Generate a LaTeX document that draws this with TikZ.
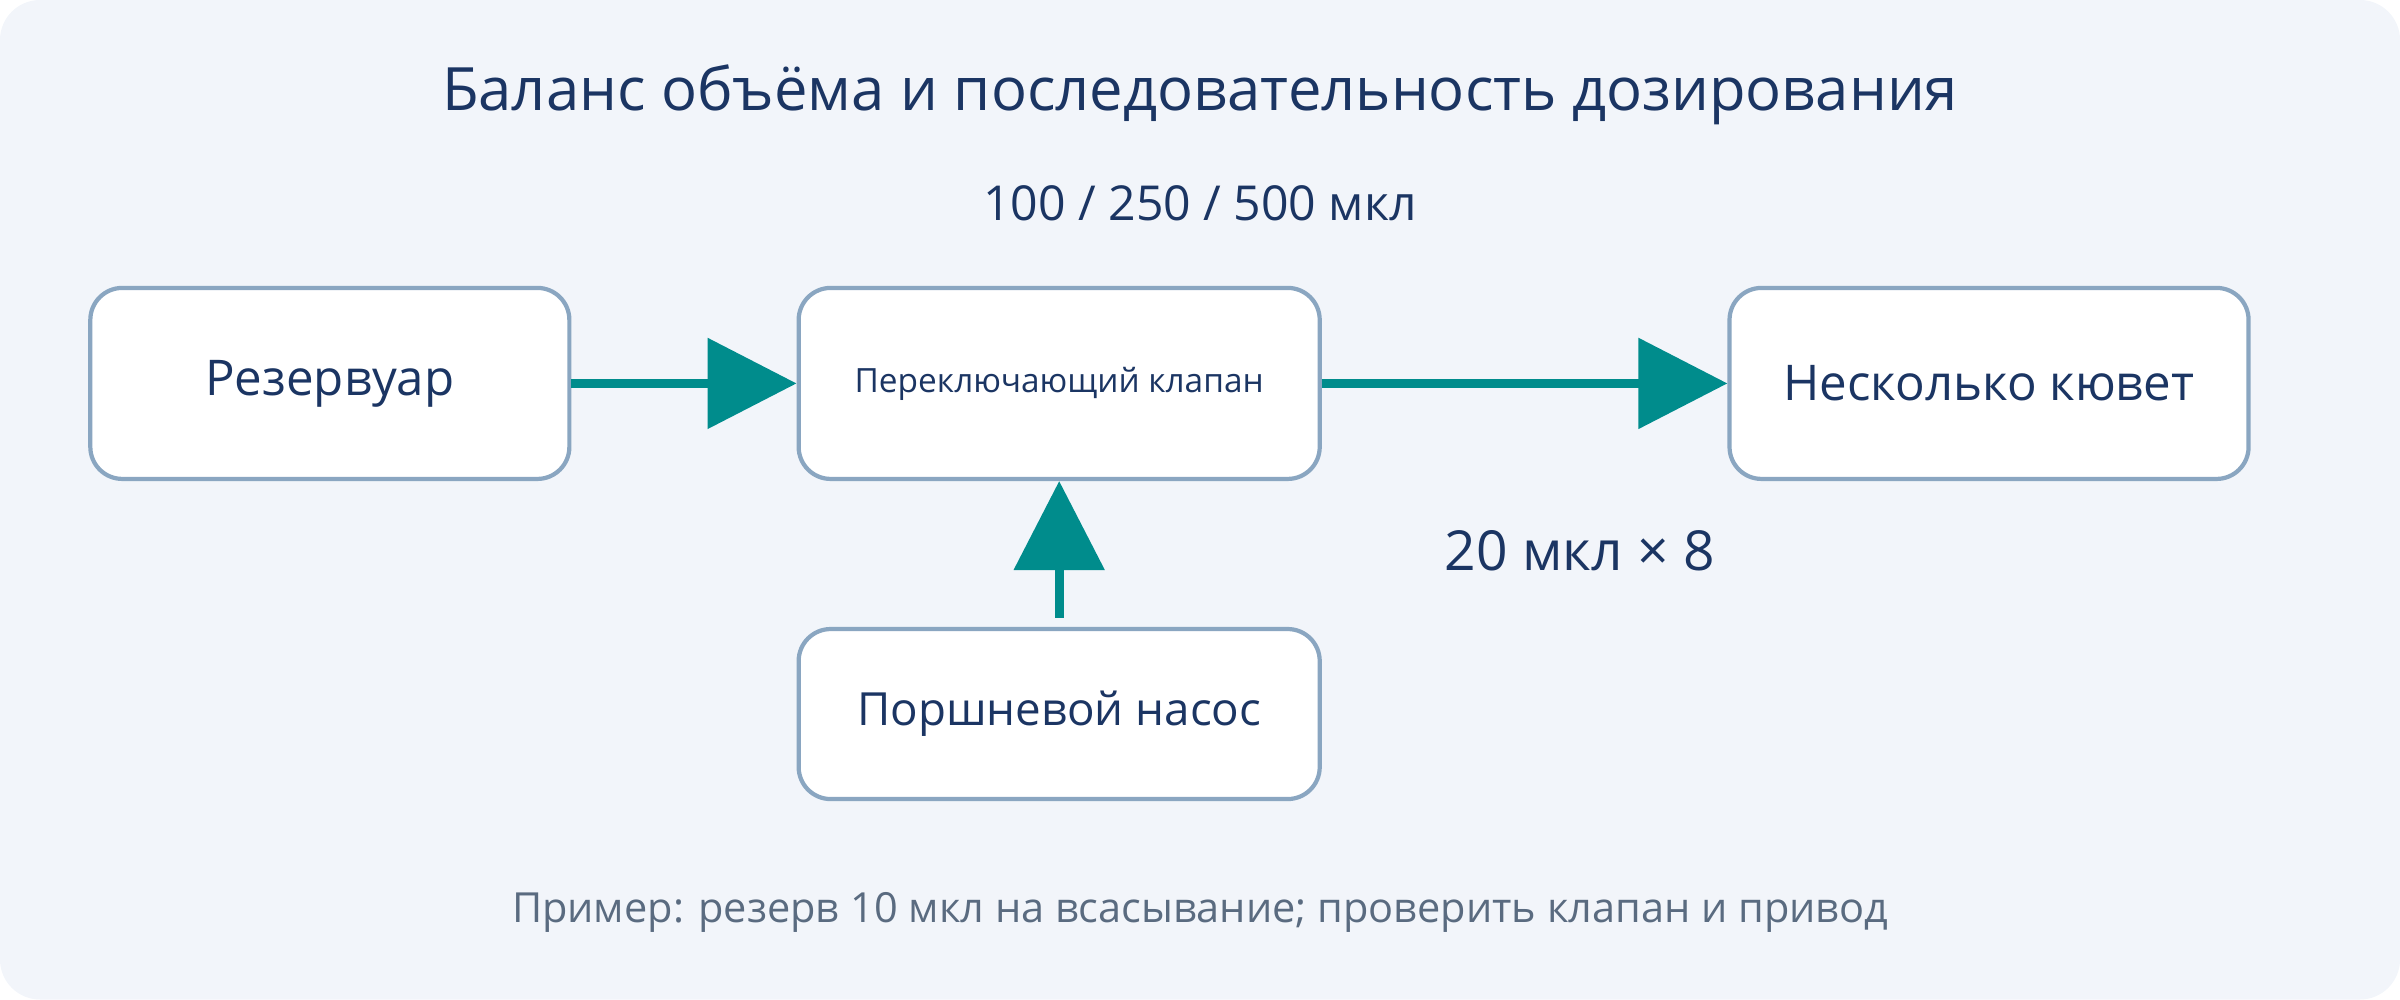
\documentclass[tikz,border=0pt]{standalone}
\usepackage{fontspec}
\setmainfont{Open Sans}
\usetikzlibrary{positioning,arrows.meta}
\definecolor{bgfill}{HTML}{F2F5FA}
\definecolor{boxline}{HTML}{8AA6C1}
\definecolor{ink}{HTML}{1B3563}
\definecolor{teal}{HTML}{008C8C}
\definecolor{note}{HTML}{5A6B80}
\tikzset{
  box/.style={draw=boxline, line width=1.2pt, fill=white, rounded corners=0.32cm,
    text=ink, minimum height=1.91cm, align=center},
  flow/.style={draw=teal, line width=0.09cm, -{Triangle[length=0.89cm,width=0.89cm]}},
  lbl/.style={text=ink}
}
\begin{document}
\begin{tikzpicture}[x=0.01531cm,y=-0.01531cm]
\fill[bgfill, rounded corners=0.4cm] (0,0) rectangle (1568,653);
\useasboundingbox (0,0) rectangle (1568,653);

\node[lbl, font=\fontsize{17}{21}\selectfont] (title) at (784,62) {Баланс объёма и последовательность дозирования};
\node[lbl, font=\fontsize{13.7}{17}\selectfont] (vol) at (784,133) {100 / 250 / 500 мкл};

\node[box, minimum width=4.79cm, font=\fontsize{14}{17}\selectfont] (res) at (215.5,250.5) {Резервуар};
\node[box, minimum width=5.21cm, font=\fontsize{9.5}{12}\selectfont] (valve) at (692,250.5) {Переключающий клапан};
\node[box, minimum width=5.19cm, font=\fontsize{14}{17}\selectfont] (cuv) at (1299.5,250.5) {Несколько кювет};
\node[box, minimum width=5.21cm, minimum height=1.70cm, font=\fontsize{13}{16}\selectfont] (pump) at (692,466.5) {Поршневой насос};

\node[lbl, font=\fontsize{15.7}{19}\selectfont] (dose) at (1032,360) {20 мкл × 8};
\node[text=note, font=\fontsize{11.8}{14}\selectfont] (hint) at (784,596) {Пример: резерв 10 мкл на всасывание; проверить клапан и привод};

\draw[flow] (res) -- (valve);
\draw[flow] (valve) -- (cuv);
\draw[flow, shorten <=0.09cm] (pump) -- (valve);
\end{tikzpicture}
\end{document}
